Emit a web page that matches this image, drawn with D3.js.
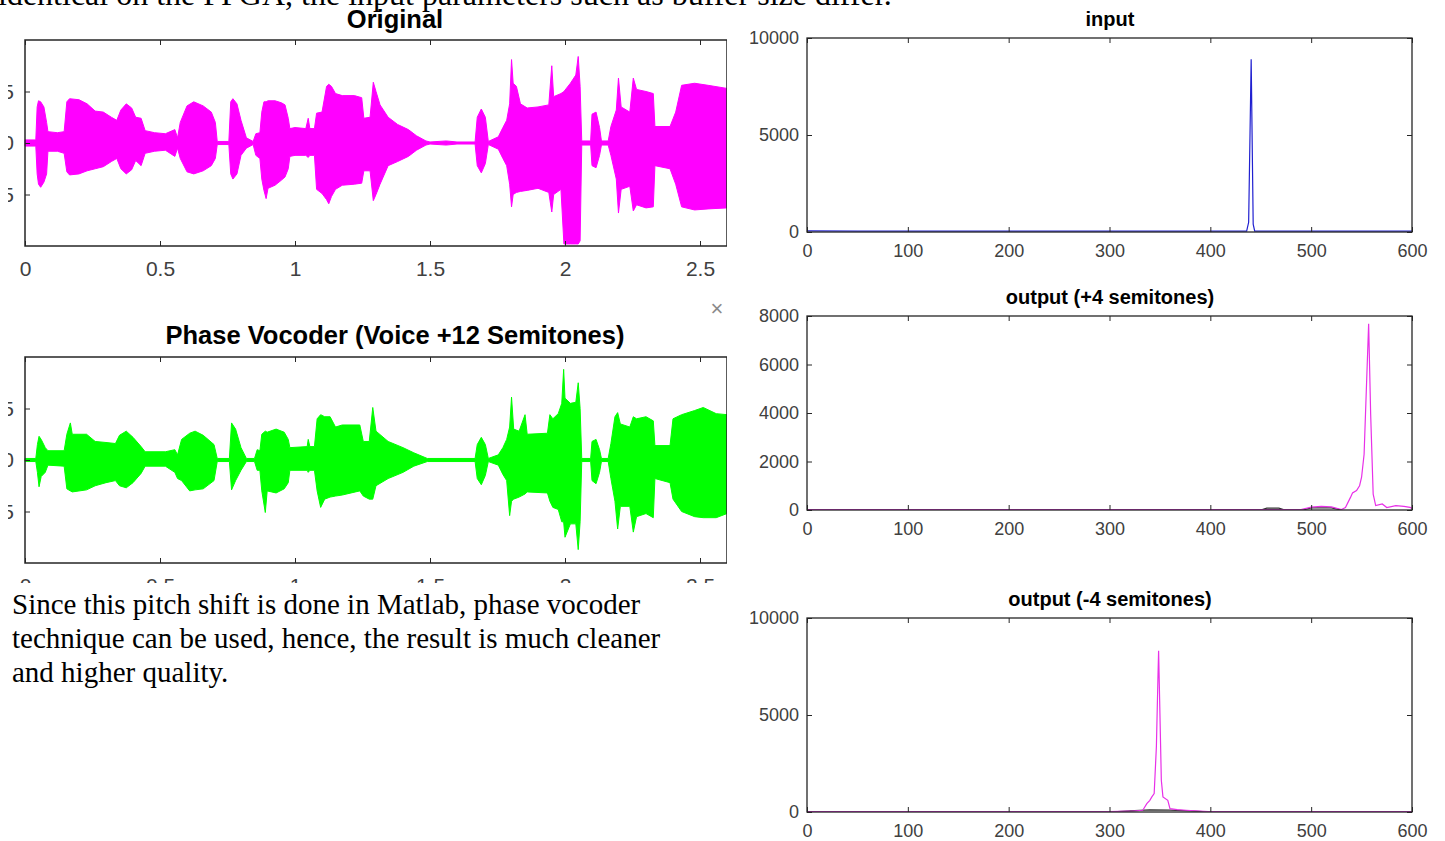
<!DOCTYPE html>
<html>
<head>
<meta charset="UTF-8">
<title>Pitch shift results</title>
<script src="https://cdn.jsdelivr.net/npm/d3@7"></script>
<style>
  body { margin: 0; background: #fff; }
  svg text { font-family: "Liberation Sans", Arial, sans-serif; }
  .serif { font-family: "Liberation Serif", "Times New Roman", serif !important; }
</style>
</head>
<body>
<script>

// ---- waveform data (time in s, upper / lower envelope of the signal) ----
var waveTicks = [0, 0.5, 1, 1.5, 2, 2.5];
var ampTicks = [-0.5, 0, 0.5];

var originalEnv = [
  [0.000, 0.03, -0.03], [0.040, 0.03, -0.03], [0.045, 0.35, -0.30], [0.050, 0.41, -0.40],
  [0.058, 0.40, -0.43], [0.070, 0.35, -0.38], [0.080, 0.20, -0.30], [0.085, 0.11, -0.08],
  [0.120, 0.10, -0.08], [0.145, 0.11, -0.10], [0.155, 0.40, -0.28], [0.165, 0.43, -0.31],
  [0.200, 0.42, -0.30], [0.230, 0.38, -0.27], [0.260, 0.31, -0.25], [0.290, 0.30, -0.23],
  [0.320, 0.25, -0.18], [0.340, 0.22, -0.15], [0.355, 0.32, -0.25], [0.375, 0.38, -0.30],
  [0.395, 0.34, -0.26], [0.410, 0.25, -0.17], [0.430, 0.24, -0.22], [0.445, 0.12, -0.10],
  [0.480, 0.10, -0.08], [0.520, 0.09, -0.07], [0.555, 0.13, -0.13], [0.565, 0.05, -0.05],
  [0.575, 0.20, -0.15], [0.600, 0.36, -0.28], [0.625, 0.40, -0.30], [0.660, 0.36, -0.27],
  [0.690, 0.30, -0.22], [0.705, 0.20, -0.15], [0.712, 0.015, -0.015], [0.755, 0.015, -0.015],
  [0.762, 0.40, -0.30], [0.770, 0.43, -0.35], [0.785, 0.38, -0.30], [0.800, 0.22, -0.12],
  [0.820, 0.05, -0.05], [0.845, 0.015, -0.015], [0.855, 0.09, -0.12], [0.870, 0.10, -0.15],
  [0.877, 0.30, -0.35], [0.885, 0.40, -0.46], [0.893, 0.40, -0.54], [0.900, 0.41, -0.44],
  [0.926, 0.41, -0.41], [0.950, 0.39, -0.36], [0.963, 0.37, -0.33], [0.975, 0.24, -0.25],
  [0.981, 0.14, -0.13], [1.000, 0.15, -0.12], [1.040, 0.14, -0.12], [1.049, 0.24, -0.14],
  [1.055, 0.14, -0.12], [1.072, 0.14, -0.12], [1.080, 0.29, -0.45], [1.100, 0.30, -0.49],
  [1.117, 0.55, -0.55], [1.125, 0.57, -0.59], [1.135, 0.55, -0.52], [1.150, 0.48, -0.45],
  [1.175, 0.46, -0.41], [1.220, 0.46, -0.40], [1.247, 0.44, -0.39], [1.255, 0.24, -0.27],
  [1.278, 0.25, -0.27], [1.290, 0.59, -0.56], [1.300, 0.50, -0.50], [1.315, 0.37, -0.40],
  [1.345, 0.25, -0.22], [1.380, 0.18, -0.18], [1.420, 0.13, -0.13], [1.450, 0.07, -0.07],
  [1.485, 0.02, -0.02], [1.500, 0.01, -0.01], [1.560, 0.02, -0.02], [1.600, 0.01, -0.01],
  [1.667, 0.01, -0.01], [1.675, 0.25, -0.22], [1.690, 0.33, -0.29], [1.705, 0.25, -0.20],
  [1.716, 0.015, -0.015], [1.753, 0.06, -0.06], [1.770, 0.15, -0.15], [1.784, 0.22, -0.22],
  [1.795, 0.38, -0.40], [1.802, 0.81, -0.62], [1.808, 0.58, -0.50], [1.820, 0.55, -0.48],
  [1.835, 0.38, -0.47], [1.860, 0.34, -0.46], [1.900, 0.35, -0.44], [1.940, 0.37, -0.48],
  [1.951, 0.75, -0.67], [1.958, 0.45, -0.50], [1.985, 0.48, -0.45], [1.996, 0.50, -0.98],
  [2.020, 0.58, -0.98], [2.040, 0.66, -0.98], [2.049, 0.84, -0.98], [2.056, 0.55, -0.95],
  [2.062, 0.02, -0.02], [2.095, 0.02, -0.02], [2.100, 0.28, -0.22], [2.115, 0.30, -0.24],
  [2.128, 0.15, -0.12], [2.135, 0.02, -0.02], [2.160, 0.02, -0.02], [2.170, 0.16, -0.12],
  [2.190, 0.32, -0.35], [2.198, 0.63, -0.68], [2.208, 0.35, -0.45], [2.240, 0.30, -0.42],
  [2.253, 0.63, -0.66], [2.265, 0.52, -0.60], [2.300, 0.50, -0.63], [2.327, 0.48, -0.62],
  [2.333, 0.16, -0.22], [2.389, 0.16, -0.25], [2.410, 0.30, -0.40], [2.432, 0.56, -0.62],
  [2.480, 0.58, -0.65], [2.530, 0.56, -0.64], [2.600, 0.53, -0.63]
];

var vocoderEnv = [
  [0.000, 0.015, -0.015], [0.040, 0.015, -0.015], [0.046, 0.15, -0.12], [0.052, 0.23, -0.26],
  [0.060, 0.20, -0.16], [0.075, 0.12, -0.12], [0.085, 0.09, -0.05], [0.145, 0.09, -0.06],
  [0.155, 0.25, -0.28], [0.168, 0.36, -0.30], [0.175, 0.25, -0.31], [0.228, 0.25, -0.29],
  [0.260, 0.18, -0.25], [0.300, 0.17, -0.22], [0.335, 0.16, -0.20], [0.350, 0.24, -0.25],
  [0.375, 0.28, -0.27], [0.400, 0.22, -0.22], [0.430, 0.13, -0.13], [0.445, 0.08, -0.06],
  [0.520, 0.08, -0.06], [0.555, 0.10, -0.12], [0.565, 0.05, -0.18], [0.580, 0.20, -0.20],
  [0.610, 0.26, -0.30], [0.630, 0.28, -0.29], [0.660, 0.24, -0.28], [0.700, 0.15, -0.20],
  [0.712, 0.015, -0.015], [0.757, 0.015, -0.015], [0.765, 0.36, -0.29], [0.780, 0.30, -0.20],
  [0.800, 0.12, -0.10], [0.820, 0.015, -0.015], [0.850, 0.015, -0.015], [0.860, 0.10, -0.10],
  [0.870, 0.09, -0.10], [0.877, 0.25, -0.30], [0.890, 0.28, -0.51], [0.897, 0.27, -0.30],
  [0.930, 0.30, -0.32], [0.960, 0.27, -0.28], [0.975, 0.20, -0.22], [0.981, 0.12, -0.10],
  [1.045, 0.13, -0.10], [1.049, 0.20, -0.12], [1.055, 0.13, -0.10], [1.072, 0.13, -0.10],
  [1.082, 0.40, -0.30], [1.095, 0.44, -0.46], [1.110, 0.42, -0.38], [1.130, 0.42, -0.36],
  [1.150, 0.32, -0.35], [1.175, 0.34, -0.34], [1.240, 0.34, -0.30], [1.253, 0.18, -0.35],
  [1.275, 0.18, -0.38], [1.288, 0.51, -0.38], [1.300, 0.28, -0.25], [1.345, 0.18, -0.18],
  [1.400, 0.12, -0.12], [1.440, 0.07, -0.06], [1.490, 0.015, -0.015], [1.667, 0.015, -0.015],
  [1.675, 0.15, -0.18], [1.690, 0.22, -0.24], [1.705, 0.15, -0.15], [1.716, 0.015, -0.015],
  [1.753, 0.05, -0.05], [1.770, 0.12, -0.14], [1.784, 0.20, -0.20], [1.795, 0.32, -0.54],
  [1.802, 0.61, -0.40], [1.810, 0.30, -0.38], [1.830, 0.28, -0.36], [1.852, 0.44, -0.33],
  [1.860, 0.25, -0.31], [1.935, 0.26, -0.32], [1.944, 0.44, -0.40], [1.955, 0.40, -0.46],
  [1.975, 0.45, -0.48], [1.988, 0.55, -0.60], [1.995, 0.88, -0.60], [2.000, 0.60, -0.75],
  [2.020, 0.55, -0.62], [2.040, 0.56, -0.62], [2.049, 0.75, -0.87], [2.056, 0.50, -0.60],
  [2.062, 0.015, -0.015], [2.095, 0.015, -0.015], [2.100, 0.18, -0.20], [2.115, 0.20, -0.23],
  [2.128, 0.10, -0.12], [2.135, 0.015, -0.015], [2.160, 0.015, -0.015], [2.170, 0.16, -0.18],
  [2.185, 0.42, -0.40], [2.195, 0.46, -0.67], [2.205, 0.35, -0.45], [2.240, 0.32, -0.45],
  [2.253, 0.42, -0.70], [2.265, 0.40, -0.55], [2.300, 0.42, -0.52], [2.327, 0.38, -0.56],
  [2.333, 0.14, -0.18], [2.389, 0.14, -0.22], [2.400, 0.40, -0.38], [2.432, 0.44, -0.50],
  [2.480, 0.48, -0.55], [2.512, 0.51, -0.56], [2.560, 0.45, -0.56], [2.600, 0.44, -0.52]
];

// ---- spectra (frequency bin, magnitude) ----
var freqTicks = [0, 100, 200, 300, 400, 500, 600];
var inputTicksY = [0, 5000, 10000];
var plus4TicksY = [0, 2000, 4000, 6000, 8000];
var minus4TicksY = [0, 5000, 10000];

var inputSpec = [
  [0, 60], [50, 40], [100, 50], [150, 40], [200, 50], [250, 40], [300, 50], [350, 40],
  [400, 50], [436, 40], [438, 500], [440.5, 8900], [442.5, 400], [444, 40], [500, 50],
  [550, 40], [600, 50]
];
var plus4Spec = [
  [0, 20], [100, 20], [200, 20], [300, 20], [400, 20], [490, 20], [500, 120], [510, 150],
  [520, 130], [530, 20], [534, 100], [539, 520], [541, 700], [545, 800], [548, 1000],
  [550, 1350], [552.5, 2300], [555, 5300], [557, 7680], [559, 3950], [561.5, 650],
  [564, 180], [570.5, 250], [575, 100], [584, 180], [592, 150], [598, 110], [600, 60]
];
var plus4Dark = [[450, 0], [456, 80], [468, 80], [474, 0], [492, 0], [500, 90], [520, 90], [530, 0]];
var minus4Spec = [
  [0, 20], [100, 20], [200, 20], [300, 20], [320, 40], [333, 90], [337, 430], [340, 600],
  [342, 780], [344.3, 950], [346.5, 3360], [348, 6800], [348.7, 8310], [350, 5090],
  [351.4, 1640], [353, 780], [357.8, 600], [360, 170], [367, 120], [376, 90], [398, 20],
  [500, 20], [600, 20]
];
var minus4Dark = [[300, 0], [320, 60], [340, 110], [360, 100], [380, 60], [400, 0]];

// ---- layout ----
var W = 1445, H = 841;
var axisColor = '#262626', labelColor = '#404040';

var svg = d3.select('body').append('svg')
  .attr('width', W)
  .attr('height', H);

var defs = svg.append('defs');
defs.append('clipPath').attr('id', 'leftcol')
  .append('rect').attr('x', 8).attr('y', 0).attr('width', 719).attr('height', 583);

// cut-off sentence from the page above
svg.append('text')
  .attr('class', 'serif')
  .attr('x', -2).attr('y', 5)
  .attr('font-size', 32)
  .attr('fill', '#000')
  .text('identical on the FPGA, the input parameters such as buffer size differ.');

function styleAxis(sel, size) {
  sel.select('.domain').remove();
  sel.selectAll('.tick line').attr('stroke', axisColor).attr('stroke-width', 1);
  sel.selectAll('.tick text').attr('fill', labelColor).attr('font-size', size);
}

function waveChart(env, color, title, top, titleY) {
  var g = svg.append('g').attr('clip-path', 'url(#leftcol)');
  var x = d3.scaleLinear().domain([0, 2.6]).range([25, 727]);
  var y = d3.scaleLinear().domain([-1, 1]).range([top + 206, top]);

  var area = d3.area()
    .x(function(d) { return x(d[0]); })
    .y0(function(d) { return y(d[2]); })
    .y1(function(d) { return y(d[1]); });

  g.append('path')
    .datum(env)
    .attr('d', area)
    .attr('fill', color)
    .attr('stroke', color)
    .attr('stroke-width', 1);

  g.append('g').attr('transform', 'translate(0,' + y(-1) + ')')
    .call(d3.axisBottom(x).tickValues(waveTicks).tickSize(-5).tickPadding(15)
      .tickFormat(d3.format('')))
    .call(styleAxis, 21);
  g.append('g').attr('transform', 'translate(0,' + y(1) + ')')
    .call(d3.axisTop(x).tickValues(waveTicks).tickSize(-5).tickFormat(''))
    .call(styleAxis, 21);
  g.append('g').attr('transform', 'translate(' + x(0) + ',0)')
    .call(d3.axisLeft(y).tickValues(ampTicks).tickSize(-5).tickPadding(11)
      .tickFormat(d3.format('')))
    .call(styleAxis, 21);

  g.append('rect')
    .attr('x', x(0)).attr('y', y(1))
    .attr('width', x(2.6) - x(0)).attr('height', y(-1) - y(1))
    .attr('fill', 'none')
    .attr('stroke', axisColor)
    .attr('stroke-width', 1.5);

  svg.append('text')
    .attr('x', 395).attr('y', titleY)
    .attr('text-anchor', 'middle')
    .attr('font-size', 25.5)
    .attr('font-weight', 'bold')
    .attr('fill', '#000')
    .text(title);
}

function specChart(series, yTicks, yMax, title, top) {
  var g = svg.append('g');
  var x = d3.scaleLinear().domain([0, 600]).range([807, 1412]);
  var y = d3.scaleLinear().domain([0, yMax]).range([top + 194, top]);
  var id = 'clip' + top;

  defs.append('clipPath').attr('id', id)
    .append('rect').attr('x', x(0)).attr('y', y(yMax))
    .attr('width', x(600) - x(0)).attr('height', y(0) - y(yMax));

  var line = d3.line()
    .x(function(d) { return x(d[0]); })
    .y(function(d) { return y(d[1]); });

  series.forEach(function(s) {
    g.append('path')
      .datum(s.data)
      .attr('clip-path', 'url(#' + id + ')')
      .attr('d', line)
      .attr('fill', 'none')
      .attr('stroke', s.color)
      .attr('stroke-width', 1.2);
  });

  g.append('g').attr('transform', 'translate(0,' + y(0) + ')')
    .call(d3.axisBottom(x).tickValues(freqTicks).tickSize(-5).tickPadding(12))
    .call(styleAxis, 18);
  g.append('g').attr('transform', 'translate(0,' + y(yMax) + ')')
    .call(d3.axisTop(x).tickValues(freqTicks).tickSize(-5).tickFormat(''))
    .call(styleAxis, 18);
  g.append('g').attr('transform', 'translate(' + x(0) + ',0)')
    .call(d3.axisLeft(y).tickValues(yTicks).tickSize(-5).tickPadding(8)
      .tickFormat(d3.format('d')))
    .call(styleAxis, 18);
  g.append('g').attr('transform', 'translate(' + x(600) + ',0)')
    .call(d3.axisRight(y).tickValues(yTicks).tickSize(-5).tickFormat(''))
    .call(styleAxis, 18);

  g.append('rect')
    .attr('x', x(0)).attr('y', y(yMax))
    .attr('width', x(600) - x(0)).attr('height', y(0) - y(yMax))
    .attr('fill', 'none')
    .attr('stroke', axisColor)
    .attr('stroke-width', 1.3);

  g.append('text')
    .attr('x', 1110).attr('y', top - 12)
    .attr('text-anchor', 'middle')
    .attr('font-size', 20)
    .attr('font-weight', 'bold')
    .attr('fill', '#000')
    .text(title);
}

waveChart(originalEnv, '#ff00ff', 'Original', 40, 28);
waveChart(vocoderEnv, '#00ff00', 'Phase Vocoder (Voice +12 Semitones)', 357, 344);

// little close mark next to the second figure
svg.append('text')
  .attr('x', 717).attr('y', 316)
  .attr('text-anchor', 'middle')
  .attr('font-size', 22)
  .attr('fill', '#8a8a8a')
  .text('\u00d7');

specChart([{ data: inputSpec, color: '#2020d0' }], inputTicksY, 10000, 'input', 38);
specChart([{ data: plus4Dark, color: '#303030' }, { data: plus4Spec, color: '#e830e8' }],
  plus4TicksY, 8000, 'output (+4 semitones)', 316);
specChart([{ data: minus4Dark, color: '#303030' }, { data: minus4Spec, color: '#e830e8' }],
  minus4TicksY, 10000, 'output (-4 semitones)', 618);

// paragraph below the figures
var para = [
  'Since this pitch shift is done in Matlab, phase vocoder',
  'technique can be used, hence, the result is much cleaner',
  'and higher quality.'
];
svg.selectAll('text.para')
  .data(para)
  .enter()
  .append('text')
  .attr('class', 'serif para')
  .attr('x', 12)
  .attr('y', function(d, i) { return 614 + i * 34; })
  .attr('font-size', 29)
  .attr('fill', '#000')
  .text(function(d) { return d; });

</script>
</body>
</html>
